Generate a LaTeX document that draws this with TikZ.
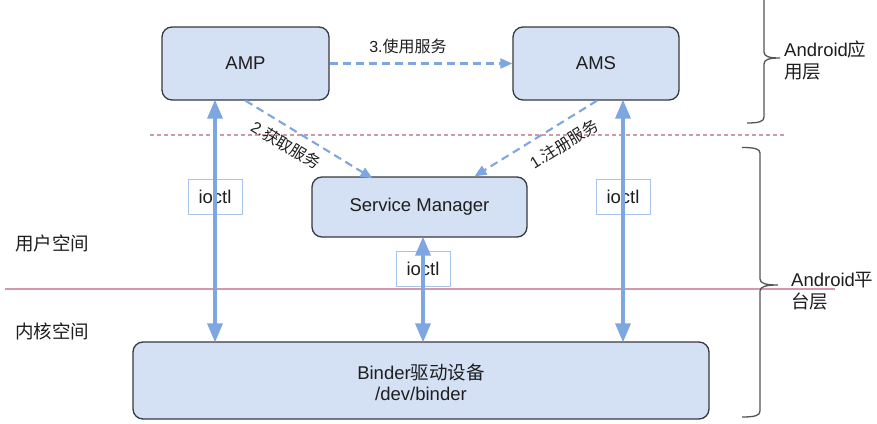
\documentclass[tikz,border=0pt]{standalone}
\usepackage{fontspec}
\setmainfont{Liberation Sans}
\newfontfamily\cjk{Noto Sans CJK SC}
\usetikzlibrary{arrows.meta}
\definecolor{boxfill}{HTML}{D4E1F5}
\definecolor{boxdraw}{HTML}{36393D}
\definecolor{arrowblue}{HTML}{7EA6E0}
\definecolor{iobox}{HTML}{A9C4EB}
\definecolor{pinkline}{HTML}{D29AA8}
\definecolor{bracegray}{HTML}{555555}
\definecolor{txt}{HTML}{1E1E1E}
\begin{document}
\begin{tikzpicture}[x=1pt,y=-1pt,
  comp/.style={draw=boxdraw,line width=1.3pt,fill=boxfill,rounded corners=10pt,inner sep=0pt,
    text=txt,font=\fontsize{18.5}{22}\selectfont,align=center},
  iolabel/.style={draw=iobox,line width=1pt,fill=white,inner sep=0pt,minimum width=54pt,minimum height=35pt,
    text=txt,font=\fontsize{18.5}{22}\selectfont},
  solidarrow/.style={draw=arrowblue,line width=3.4pt,{Triangle[width=15pt,length=19pt]}-{Triangle[width=15pt,length=19pt]}},
  dasharrow/.style={draw=arrowblue,line width=2.1pt,dash pattern=on 8pt off 5pt,-{Triangle[width=10pt,length=12pt]}},
  steplabel/.style={text=txt,font=\fontsize{16}{19}\selectfont,inner sep=0pt},
  sidelabel/.style={text=txt,font=\fontsize{18.5}{22}\selectfont,inner sep=0pt,align=left},
  bracestyle/.style={draw=bracegray,line width=1.3pt}]
\useasboundingbox (0,0) rectangle (877,423);
\fill[white] (0,0) rectangle (877,423);

% separator lines
\draw[pinkline,line width=1.1pt,dash pattern=on 4pt off 3pt] (150,135) -- (785,135);
\draw[pinkline,line width=1.4pt] (5,289) -- (835,289);

% boxes
\node[comp,minimum width=167pt,minimum height=73pt] (AMP) at (245.5,63.5) {AMP};
\node[comp,minimum width=166pt,minimum height=73pt] (AMS) at (596,63.5) {AMS};
\node[comp,minimum width=215pt,minimum height=60pt] (SM) at (419.5,207) {Service Manager};
\node[comp,minimum width=576pt,minimum height=77pt] (Binder) at (421,380.5) {};
\node[text=txt,font=\fontsize{18.5}{21}\selectfont,align=center,inner sep=0pt] (BinderText) at (421,382)
  {Binder{\cjk 驱动设备}\\/dev/binder};

% ioctl labels
\node[iolabel] (ioL) at (215,196.5) {ioctl};
\node[iolabel] (ioM) at (423,268.5) {ioctl};
\node[iolabel] (ioR) at (623,196.5) {ioctl};

% solid arrows
\draw[solidarrow] ([yshift=1pt]AMP.south -| ioL) -- ([yshift=-1pt]Binder.north -| ioL);
\draw[solidarrow] ([yshift=1pt]SM.south -| ioM) -- ([yshift=-1pt]Binder.north -| ioM);
\draw[solidarrow] ([yshift=1pt]AMS.south -| ioR) -- ([yshift=-1pt]Binder.north -| ioR);

% dashed arrows
\draw[dasharrow] (AMP.east) -- (AMS.west);
\draw[dasharrow] (AMP.south) -- ([xshift=-47pt,yshift=-2pt]SM.north);
\draw[dasharrow] ([xshift=1pt]AMS.south) -- ([xshift=55pt]SM.north);

\node[steplabel] (s3) at (408,46) {3.{\cjk 使用服务}};
\node[steplabel,rotate=-31] (s2) at (286,145) {2.{\cjk 获取服务}};
\node[steplabel,rotate=32] (s1) at (564,144) {1.{\cjk 注册服务}};

% side labels
\node[sidelabel] (user) at (52,243) {\cjk 用户空间};
\node[sidelabel] (kernel) at (52,331) {\cjk 内核空间};

% braces
\draw[bracestyle] (764,-2) -- (764,52) .. controls (764,56.5) and (769,58) .. (780,58)
  .. controls (769,58) and (764,59.5) .. (764,64) -- (764,117) .. controls (764,121.5) and (759,123) .. (747,123);
\draw[bracestyle] (742,147.5) .. controls (755,147.5) and (760,149) .. (760,153) -- (760,279)
  .. controls (760,283.5) and (766,285) .. (778,285) .. controls (766,285) and (760,286.5) .. (760,291)
  -- (760,411) .. controls (760,415.5) and (755,417) .. (742,417);

\node[sidelabel,anchor=west] (appL) at (784,60) {Android{\cjk 应}\\{\cjk 用层}};
\node[sidelabel,anchor=west] (platL) at (791,291) {Android{\cjk 平}\\{\cjk 台层}};
\end{tikzpicture}
\end{document}
